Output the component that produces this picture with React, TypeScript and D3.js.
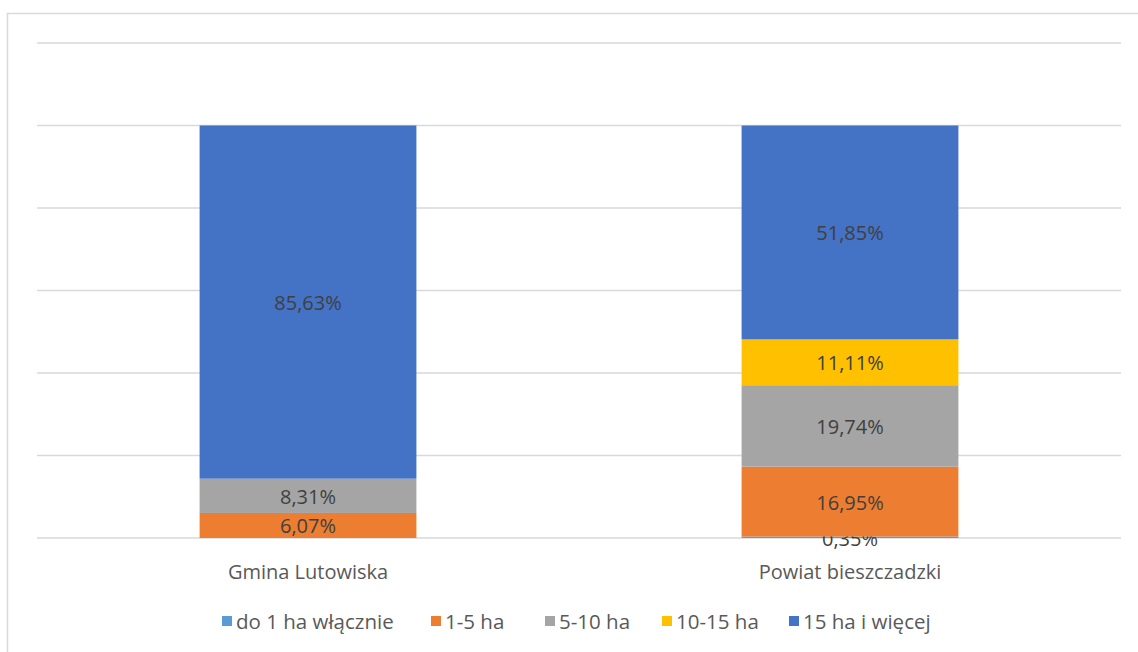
import React, { useEffect, useRef } from 'react';
import * as d3 from 'd3';

const categories = ['Gmina Lutowiska', 'Powiat bieszczadzki'];
const seriesNames = ['do 1 ha włącznie', '1-5 ha', '5-10 ha', '10-15 ha', '15 ha i więcej'];
const seriesColors = ['#5B9BD5', '#ED7D31', '#A5A5A5', '#FFC000', '#4472C4'];
// share of each series per category (percent)
const do1ha = [0, 0.35];
const ha1to5 = [6.07, 16.95];
const ha5to10 = [8.31, 19.74];
const ha10to15 = [0, 11.11];
const ha15plus = [85.63, 51.85];
const yTicks = [0, 20, 40, 60, 80, 100, 120];

export default function App() {
  const svgRef = useRef<SVGSVGElement>(null);

  useEffect(() => {
    if (!svgRef.current) return;
    const svg = d3.select(svgRef.current);
    svg.selectAll('*').remove();

    const width = 1138;
    const height = 652;
    const font = '"Open Sans", Lato, sans-serif';

    // chart frame (only top/left edges visible)
    svg.append('rect')
      .attr('x', 7.5).attr('y', 13.5)
      .attr('width', 1200).attr('height', 700)
      .attr('fill', 'white')
      .attr('stroke', '#d9d9d9')
      .attr('stroke-width', 1.5);

    const x = d3.scaleBand()
      .domain(categories)
      .range([37, 1121])
      .padding(0);

    const y = d3.scaleLinear()
      .domain([0, 120])
      .range([538, 43]);

    // gridlines
    svg.append('g')
      .selectAll('line')
      .data(yTicks)
      .enter()
      .append('line')
      .attr('x1', 37)
      .attr('x2', 1121)
      .attr('y1', d => y(d))
      .attr('y2', d => y(d))
      .attr('stroke', '#d9d9d9')
      .attr('stroke-width', 1.5);

    const table = categories.map((c, i) => ({
      category: c,
      s0: do1ha[i],
      s1: ha1to5[i],
      s2: ha5to10[i],
      s3: ha10to15[i],
      s4: ha15plus[i],
    }));
    const keys = ['s0', 's1', 's2', 's3', 's4'];
    const stacked = d3.stack<any>().keys(keys)(table);

    const barW = x.bandwidth() * 0.4;
    const barX = (c: string) => x(c)! + (x.bandwidth() - barW) / 2;

    stacked.forEach((layer, li) => {
      const g = svg.append('g');
      g.selectAll('rect')
        .data(layer)
        .enter()
        .append('rect')
        .attr('x', d => barX(d.data.category))
        .attr('y', d => y(d[1]))
        .attr('width', barW)
        .attr('height', d => y(d[0]) - y(d[1]))
        .attr('fill', seriesColors[li]);

      g.selectAll('text')
        .data(layer.filter(d => d[1] - d[0] > 0))
        .enter()
        .append('text')
        .attr('x', d => barX(d.data.category) + barW / 2)
        .attr('y', d => (y(d[0]) + y(d[1])) / 2 + (li === 0 ? 2 : 1))
        .attr('dy', '0.35em')
        .attr('text-anchor', 'middle')
        .style('font-family', font)
        .style('font-size', '20px')
        .style('fill', '#404040')
        .text(d => (d[1] - d[0]).toFixed(2).replace('.', ',') + '%');
    });

    // category labels
    svg.append('g')
      .selectAll('text')
      .data(categories)
      .enter()
      .append('text')
      .attr('x', d => x(d)! + x.bandwidth() / 2)
      .attr('y', 572)
      .attr('dy', '0.35em')
      .attr('text-anchor', 'middle')
      .style('font-family', font)
      .style('font-size', '20px')
      .style('fill', '#595959')
      .text(d => d);

    // legend
    const legendX = [222, 431, 545, 662, 789];
    const legend = svg.append('g');
    seriesNames.forEach((name, i) => {
      legend.append('rect')
        .attr('x', legendX[i])
        .attr('y', 616)
        .attr('width', 10)
        .attr('height', 10)
        .attr('fill', seriesColors[i]);
      legend.append('text')
        .attr('x', legendX[i] + 14)
        .attr('y', 622)
        .attr('dy', '0.35em')
        .style('font-family', font)
        .style('font-size', '20.5px')
        .style('fill', '#595959')
        .text(name);
    });

    svg.attr('width', width).attr('height', height);
  }, []);

  return (
    <div style={{ position: 'absolute', left: 0, top: 0 }}>
      <svg ref={svgRef} width={1138} height={652} style={{ display: 'block', background: 'white' }}></svg>
    </div>
  );
}
